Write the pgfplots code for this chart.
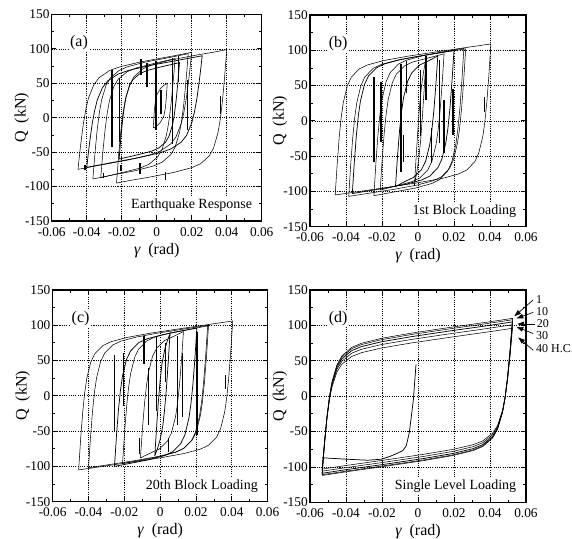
\documentclass[border=0pt]{standalone}
\usepackage{fontspec}
\setmainfont{Liberation Serif}
\usepackage{pgfplots}
\pgfplotsset{compat=1.18}
\usetikzlibrary{arrows.meta}

\pgfplotsset{
  panel/.style={
    scale only axis, anchor=south west,
    xmin=-0.06, xmax=0.06, ymin=-150, ymax=150,
    xtick={-0.06,-0.04,-0.02,0,0.02,0.04,0.06},
    xticklabels={-0.06,-0.04,-0.02,0,0.02,0.04,0.06},
    scaled x ticks=false,
    ytick={-150,-100,-50,0,50,100,150},
    yticklabels={-150,-100,-50,0,50,100,150},
    minor x tick num=1, minor y tick num=1,
    tick align=inside,
    major tick length=3.5pt, minor tick length=2pt,
    tick style={black, line width=0.6pt},
    grid=major,
    major grid style={black, line width=0.5pt, dash pattern=on 0.8pt off 0.9pt},
    axis line style={line width=1.1pt},
    tick label style={font=\fontsize{10}{12}\selectfont, inner sep=1.5pt},
    xticklabel shift=3pt,
    label style={font=\fontsize{12}{14}\selectfont},
    xlabel={{\itshape γ}\ \ (rad)},
    ylabel={Q\ \ (kN)},
    xlabel shift=0pt,
    ylabel shift=-8pt,
    cycle list={{black, mark=none, line width=0.55pt}},
    unbounded coords=jump,
  },
  spikes/.style={black, mark=none, line width=1pt},
}
\tikzset{
  tag/.style={fill=white, inner sep=1pt, font=\fontsize{12}{14}\selectfont},
  caption/.style={anchor=east, fill=white, inner sep=1.5pt, font=\fontsize{10.5}{12}\selectfont},
  hc/.style={-{Triangle[length=5pt,width=3.5pt]}, line width=0.5pt},
  hcl/.style={anchor=west, inner sep=1pt, font=\fontsize{9}{10}\selectfont},
}

\begin{document}
\begin{tikzpicture}
\path[use as bounding box] (0,0) rectangle (429pt,404.25pt);

% (a) earthquake response
\begin{axis}[panel, at={(38.8pt,238.5pt)}, width=157.5pt, height=154.9pt]
\addplot coordinates {(-0.023,-95) (-0.02175,-53.9) (-0.0205,-19.1) (-0.01925,7.2) (-0.018,25.8) (-0.0155,47.9) (-0.013,59.5) (-0.008,70.9) (-0.003,76.5) (0.007,83.3) (0.022,90.7) (0.032,95) (0.040,99) (0.03875,57.9) (0.0375,23.1) (0.03625,-3.2) (0.035,-21.8) (0.0325,-43.9) (0.030,-55.5) (0.025,-66.9) (0.020,-72.5) (0.010,-79.3) (-0.005,-86.7) (-0.015,-91) (-0.023,-95)};
\addplot coordinates {(-0.045,-75) (-0.0435,-39.9) (-0.042,-10.1) (-0.0405,12.5) (-0.039,28.5) (-0.036,47.8) (-0.033,58) (-0.027,68.5) (-0.021,74) (-0.009,81.2) (0.009,89.6) (0.020,95) (0.0185,59.9) (0.017,30.1) (0.0155,7.5) (0.014,-8.5) (0.011,-27.8) (0.008,-38) (0.002,-48.5) (-0.004,-54) (-0.016,-61.2) (-0.034,-69.6) (-0.045,-75)};
\addplot coordinates {(-0.040,-72) (-0.0385,-39) (-0.037,-10.8) (-0.0355,10.4) (-0.034,25.6) (-0.031,43.8) (-0.028,53.5) (-0.022,63.5) (-0.016,68.8) (-0.004,75.9) (0.014,84.3) (0.026,90) (0.0245,57) (0.023,28.8) (0.0215,7.6) (0.020,-7.6) (0.017,-25.8) (0.014,-35.5) (0.008,-45.5) (0.002,-50.8) (-0.010,-57.9) (-0.028,-66.3) (-0.040,-72)};
\addplot coordinates {(-0.0365,-89) (-0.03525,-50) (-0.034,-16.9) (-0.03275,8) (-0.0315,25.7) (-0.029,46.8) (-0.0265,57.8) (-0.0215,68.7) (-0.0165,74.2) (-0.0065,80.8) (0.0085,88.1) (0.018,93) (0.01675,54) (0.0155,20.9) (0.01425,-4) (0.013,-21.7) (0.0105,-42.8) (0.008,-53.8) (0.003,-64.7) (-0.002,-70.2) (-0.012,-76.8) (-0.027,-84.1) (-0.0365,-89)};
\addplot coordinates {(-0.032,-87) (-0.03075,-49) (-0.0295,-16.8) (-0.02825,7.5) (-0.027,24.7) (-0.0245,45.3) (-0.022,56) (-0.017,66.7) (-0.012,72.1) (-0.002,78.6) (0.0105,86) (0.00925,48) (0.008,15.8) (0.00675,-8.5) (0.0055,-25.7) (0.003,-46.3) (0.0005,-57) (-0.0045,-67.7) (-0.0095,-73.1) (-0.0195,-79.6) (-0.032,-87)};
\addplot coordinates {(-0.0215,-60) (-0.0205,-29.3) (-0.0195,-3.2) (-0.0185,16.4) (-0.0175,30.4) (-0.0155,47) (-0.0135,55.7) (-0.0095,64.3) (-0.0055,68.6) (0.0025,73.9) (0.013,80) (0.012,49.3) (0.011,23.2) (0.010,3.6) (0.009,-10.4) (0.007,-27) (0.005,-35.7) (0.001,-44.3) (-0.003,-48.6) (-0.011,-53.9) (-0.0215,-60)};
\addplot coordinates {(-0.002,-15) (-0.0015,5) (-0.001,20) (0,33) (0.002,42) (0.004,47) (0.006,50) (0.0055,30) (0.005,15) (0.004,2) (0.002,-7) (0,-12) (-0.002,-15)};
\addplot[spikes] coordinates {(-0.0255,-42) (-0.0255,70) (-0.0255,nan) (-0.0212,-35) (-0.0212,58) (-0.0212,nan) (-0.009,62) (-0.009,86) (-0.009,nan) (-0.0055,45) (-0.0055,80) (-0.0055,nan) (-0.0005,-18) (-0.0005,83) (-0.0005,nan) (0.0025,5) (0.0025,40) (0.0025,nan) (0.009,-38) (0.009,87) (0.009,nan) (0.0125,52) (0.0125,89) (0.0125,nan) (0.0175,-18) (0.0175,55) (0.0175,nan) (0.0365,5) (0.0365,32) (0.0365,nan) (-0.041,-76) (-0.041,-68) (-0.041,nan) (-0.0305,-88) (-0.0305,-80) (-0.0305,nan) (-0.0205,-78) (-0.0205,-68) (-0.0205,nan) (-0.0095,-82) (-0.0095,-66) (-0.0095,nan) (0.005,-90) (0.005,-79)};
\node[tag] at (rel axis cs:0.13,0.865) {(a)};
\node[caption] at (rel axis cs:0.965,0.075) {Earthquake Response};
\end{axis}

% (b) 1st block
\begin{axis}[panel, at={(232.5pt,234.2pt)}, width=162pt, height=158.8pt]
\addplot coordinates {(-0.046,-105) (-0.044875,-60.4) (-0.04375,-22.5) (-0.042625,5.9) (-0.0415,26) (-0.03925,49.8) (-0.037,62.1) (-0.0325,73.8) (-0.028,79.3) (-0.019,85.5) (-0.0055,91.7) (0.0125,98.6) (0.0405,109) (0.039375,64.4) (0.03825,26.5) (0.037125,-1.9) (0.036,-22) (0.03375,-45.8) (0.0315,-58.1) (0.027,-69.8) (0.0225,-75.3) (0.0135,-81.5) (0,-87.7) (-0.018,-94.6) (-0.046,-105)};
\addplot coordinates {(-0.0385,-107) (-0.037375,-61.7) (-0.03625,-23.4) (-0.035125,5.5) (-0.034,25.8) (-0.03175,49.9) (-0.0295,62.3) (-0.025,74.3) (-0.0205,79.8) (-0.0115,86) (0.002,92.3) (0.0265,102) (0.025375,56.7) (0.02425,18.4) (0.023125,-10.5) (0.022,-30.8) (0.01975,-54.9) (0.0175,-67.3) (0.013,-79.3) (0.0085,-84.8) (-0.0005,-91) (-0.014,-97.3) (-0.0385,-107)};
\addplot coordinates {(-0.0365,-103) (-0.035375,-58.5) (-0.03425,-20.8) (-0.033125,7.6) (-0.032,27.7) (-0.02975,51.4) (-0.0275,63.6) (-0.023,75.3) (-0.0185,80.8) (-0.0095,87) (0.004,93.2) (0.020,100) (0.018875,55.5) (0.01775,17.8) (0.016625,-10.6) (0.0155,-30.7) (0.01325,-54.4) (0.011,-66.6) (0.0065,-78.3) (0.002,-83.8) (-0.007,-90) (-0.0205,-96.2) (-0.0365,-103)};
\addplot coordinates {(-0.0245,-106) (-0.023375,-59.5) (-0.02225,-20) (-0.021125,9.6) (-0.020,30.5) (-0.01775,55.3) (-0.0155,68.1) (-0.011,80.2) (-0.0065,85.9) (0.0025,92.2) (0.0255,103) (0.024375,56.5) (0.02325,17) (0.022125,-12.6) (0.021,-33.5) (0.01875,-58.3) (0.0165,-71.1) (0.012,-83.2) (0.0075,-88.9) (-0.0015,-95.2) (-0.0245,-106)};
\addplot coordinates {(-0.021,-98) (-0.019875,-54.1) (-0.01875,-16.9) (-0.017625,11.1) (-0.0165,30.8) (-0.01425,54.3) (-0.012,66.3) (-0.0075,77.9) (-0.003,83.3) (0.006,89.4) (0.0145,95) (0.013375,51.1) (0.01225,13.9) (0.011125,-14.1) (0.010,-33.8) (0.00775,-57.3) (0.0055,-69.3) (0.001,-80.9) (-0.0035,-86.3) (-0.0125,-92.4) (-0.021,-98)};
\addplot coordinates {(-0.0125,-93) (-0.011375,-50) (-0.01025,-13.6) (-0.009125,13.8) (-0.008,33.1) (-0.00575,56.1) (-0.0035,67.9) (0.001,79.2) (0.0055,84.6) (0.011,92) (0.009875,49) (0.00875,12.6) (0.007625,-14.8) (0.0065,-34.1) (0.00425,-57.1) (0.002,-68.9) (-0.0025,-80.2) (-0.007,-85.6) (-0.0125,-93)};
\addplot coordinates {(-0.002,-92) (-0.001,-50) (0,-10) (0.001,25) (0.002,50) (0.003,68) (0.0045,90) (0.0035,48) (0.0025,8) (0.0015,-27) (0.0005,-52) (-0.0005,-70) (-0.002,-92)};
\addplot[spikes] coordinates {(-0.0245,-58) (-0.0245,62) (-0.0245,nan) (-0.0205,-30) (-0.0205,55) (-0.0205,nan) (-0.0095,-72) (-0.0095,80) (-0.0095,nan) (-0.0065,40) (-0.0065,85) (-0.0065,nan) (0.0015,-22) (0.0015,72) (0.0015,nan) (0.0045,30) (0.0045,92) (0.0045,nan) (0.012,-32) (0.012,86) (0.012,nan) (0.0145,-45) (0.0145,30) (0.0145,nan) (0.0195,-20) (0.0195,45) (0.0195,nan) (0.037,12) (0.037,34) (0.037,nan) (-0.008,-58) (-0.008,-20) (-0.008,nan) (0.0075,-60) (0.0075,-10)};
\node[tag] at (rel axis cs:0.13,0.865) {(b)};
\node[caption] at (rel axis cs:0.965,0.075) {1st Block Loading};
\end{axis}

% (c) 20th block
\begin{axis}[panel, at={(39.5pt,28pt)}, width=161.25pt, height=158.8pt]
\addplot coordinates {(-0.0455,-105) (-0.044375,-61) (-0.04325,-23.8) (-0.042125,4.3) (-0.041,24) (-0.03875,47.5) (-0.0365,59.5) (-0.032,71.1) (-0.0275,76.6) (-0.0185,82.7) (-0.005,88.9) (0.013,95.8) (0.0405,106) (0.039375,62) (0.03825,24.8) (0.037125,-3.3) (0.036,-23) (0.03375,-46.5) (0.0315,-58.5) (0.027,-70.1) (0.0225,-75.6) (0.0135,-81.7) (0,-87.9) (-0.018,-94.8) (-0.0455,-105)};
\addplot coordinates {(-0.040,-102) (-0.038875,-58.6) (-0.03775,-21.8) (-0.036625,5.8) (-0.0355,25.3) (-0.03325,48.5) (-0.031,60.4) (-0.0265,71.9) (-0.022,77.4) (-0.013,83.4) (0.0005,89.6) (0.027,100) (0.025875,56.6) (0.02475,19.8) (0.023625,-7.8) (0.0225,-27.3) (0.02025,-50.5) (0.018,-62.4) (0.0135,-73.9) (0.009,-79.4) (0,-85.4) (-0.0135,-91.6) (-0.040,-102)};
\addplot coordinates {(-0.0255,-100) (-0.024375,-56.3) (-0.02325,-19.2) (-0.022125,8.7) (-0.021,28.3) (-0.01875,51.7) (-0.0165,63.6) (-0.012,75.2) (-0.0075,80.6) (0.0015,86.7) (0.0205,96) (0.019375,52.3) (0.01825,15.2) (0.017125,-12.7) (0.016,-32.3) (0.01375,-55.7) (0.0115,-67.6) (0.007,-79.2) (0.0025,-84.6) (-0.0065,-90.7) (-0.0255,-100)};
\addplot coordinates {(-0.021,-96) (-0.019875,-52.6) (-0.01875,-15.9) (-0.017625,11.8) (-0.0165,31.3) (-0.01425,54.4) (-0.012,66.3) (-0.0075,77.8) (-0.003,83.2) (0.006,89.3) (0.0265,99) (0.025375,55.6) (0.02425,18.9) (0.023125,-8.8) (0.022,-28.3) (0.01975,-51.4) (0.0175,-63.3) (0.013,-74.8) (0.0085,-80.2) (-0.0005,-86.3) (-0.021,-96)};
\addplot coordinates {(-0.011,-88) (-0.009875,-46.5) (-0.00875,-11.4) (-0.007625,15.1) (-0.0065,33.7) (-0.00425,55.9) (-0.002,67.4) (0.0025,78.4) (0.007,83.6) (0.013,91) (0.011875,49.5) (0.01075,14.4) (0.009625,-12.1) (0.0085,-30.7) (0.00625,-52.9) (0.004,-64.4) (-0.0005,-75.4) (-0.005,-80.6) (-0.011,-88)};
\addplot coordinates {(-0.003,-85) (-0.002,-45) (-0.001,-8) (0,22) (0.001,45) (0.0025,65) (0.004,78) (0.0055,88) (0.0045,48) (0.0035,11) (0.0025,-19) (0.0015,-42) (0,-62) (-0.0015,-75) (-0.003,-85)};
\addplot[spikes] coordinates {(-0.0255,-52) (-0.0255,58) (-0.0255,nan) (-0.0205,-15) (-0.0205,60) (-0.0205,nan) (-0.009,45) (-0.009,85) (-0.009,nan) (-0.0065,-42) (-0.0065,40) (-0.0065,nan) (-0.002,-22) (-0.002,85) (-0.002,nan) (0.003,20) (0.003,75) (0.003,nan) (0.0095,-42) (0.0095,85) (0.0095,nan) (0.0125,-30) (0.0125,60) (0.0125,nan) (0.0205,-55) (0.0205,90) (0.0205,nan) (0.0365,10) (0.0365,30) (0.0365,nan) (-0.0115,-82) (-0.0115,-60) (-0.0115,nan) (0.0045,-80) (0.0045,-60)};
\node[tag] at (rel axis cs:0.13,0.865) {(c)};
\node[caption] at (rel axis cs:0.965,0.075) {20th Block Loading};
\end{axis}

% (d) single level
\begin{axis}[panel, at={(232.5pt,27.5pt)}, width=162pt, height=159.2pt, clip=false]
\addplot coordinates {(-0.0533,-112) (-0.051925,-67) (-0.05055,-28.9) (-0.049175,-0.2) (-0.0478,20.1) (-0.04505,44.3) (-0.0423,56.9) (-0.0368,69.1) (-0.0313,74.9) (-0.0203,81.8) (-0.0038,89.1) (0.0182,97.4) (0.0402,105.3) (0.0525,110) (0.051125,65) (0.04975,26.9) (0.048375,-1.8) (0.047,-22.1) (0.04425,-46.3) (0.0415,-58.9) (0.036,-71.1) (0.0305,-76.9) (0.0195,-83.8) (0.003,-91.1) (-0.019,-99.4) (-0.041,-107.3) (-0.0533,-112)};
\addplot coordinates {(-0.0533,-111) (-0.051925,-66.8) (-0.05055,-29.2) (-0.049175,-0.9) (-0.0478,19.1) (-0.04505,42.8) (-0.0423,55.1) (-0.0368,67.2) (-0.0313,73) (-0.0203,79.9) (-0.0038,87.1) (0.0182,95.4) (0.0402,103.3) (0.0525,108) (0.051125,63.8) (0.04975,26.2) (0.048375,-2.1) (0.047,-22.1) (0.04425,-45.8) (0.0415,-58.1) (0.036,-70.2) (0.0305,-76) (0.0195,-82.9) (0.003,-90.1) (-0.019,-98.4) (-0.041,-106.3) (-0.0533,-111)};
\addplot coordinates {(-0.0533,-109) (-0.051925,-66) (-0.05055,-29.5) (-0.049175,-1.9) (-0.0478,17.5) (-0.04505,40.7) (-0.0423,52.6) (-0.0368,64.5) (-0.0313,70.2) (-0.0203,76.9) (-0.0038,84.1) (0.0182,92.4) (0.0402,100.2) (0.0525,105) (0.051125,62) (0.04975,25.5) (0.048375,-2.1) (0.047,-21.5) (0.04425,-44.7) (0.0415,-56.6) (0.036,-68.5) (0.0305,-74.2) (0.0195,-80.9) (0.003,-88.1) (-0.019,-96.4) (-0.041,-104.2) (-0.0533,-109)};
\addplot coordinates {(-0.0533,-106) (-0.051925,-64.7) (-0.05055,-29.6) (-0.049175,-3.1) (-0.0478,15.6) (-0.04505,37.8) (-0.0423,49.4) (-0.0368,60.8) (-0.0313,66.4) (-0.0203,73) (-0.0038,80.2) (0.0182,88.4) (0.0402,96.3) (0.0525,101) (0.051125,59.7) (0.04975,24.6) (0.048375,-1.9) (0.047,-20.6) (0.04425,-42.8) (0.0415,-54.4) (0.036,-65.8) (0.0305,-71.4) (0.0195,-78) (0.003,-85.2) (-0.019,-93.4) (-0.041,-101.3) (-0.0533,-106)};
\addplot coordinates {(-0.0533,-103) (-0.051925,-63.6) (-0.05055,-30.2) (-0.049175,-4.9) (-0.0478,12.9) (-0.04505,34.2) (-0.0423,45.2) (-0.0368,56.2) (-0.0313,61.6) (-0.0203,68.1) (-0.0038,75.2) (0.0182,83.4) (0.0402,91.3) (0.0525,96) (0.051125,56.6) (0.04975,23.2) (0.048375,-2.1) (0.047,-19.9) (0.04425,-41.2) (0.0415,-52.2) (0.036,-63.2) (0.0305,-68.6) (0.0195,-75.1) (0.003,-82.2) (-0.019,-90.4) (-0.041,-98.3) (-0.0533,-103)};
\addplot coordinates {(-0.0533,-87) (-0.04,-89) (-0.028,-90.5) (-0.0202,-89) (-0.0155,-85) (-0.0118,-81) (-0.0085,-77) (-0.0065,-70) (-0.0048,-51) (-0.0026,-6) (-0.0011,45)};
\draw[hc] (axis cs:0.064,136) -- (axis cs:0.0535,113);
\draw[hc] (axis cs:0.064,118.5) -- (axis cs:0.0548,110);
\draw[hc] (axis cs:0.065,102) -- (axis cs:0.0552,102);
\draw[hc] (axis cs:0.064,88.5) -- (axis cs:0.0548,98);
\draw[hc] (axis cs:0.064,65) -- (axis cs:0.0557,83);
\node[hcl] at (axis cs:0.0648,137) {1};
\node[hcl] at (axis cs:0.0648,119) {10};
\node[hcl] at (axis cs:0.0652,102) {20};
\node[hcl] at (axis cs:0.0648,85) {30};
\node[hcl] at (axis cs:0.0648,67.5) {40 H.C.};
\node[tag] at (rel axis cs:0.13,0.865) {(d)};
\node[caption] at (rel axis cs:0.965,0.075) {Single Level Loading};
\end{axis}
\end{tikzpicture}
\end{document}
